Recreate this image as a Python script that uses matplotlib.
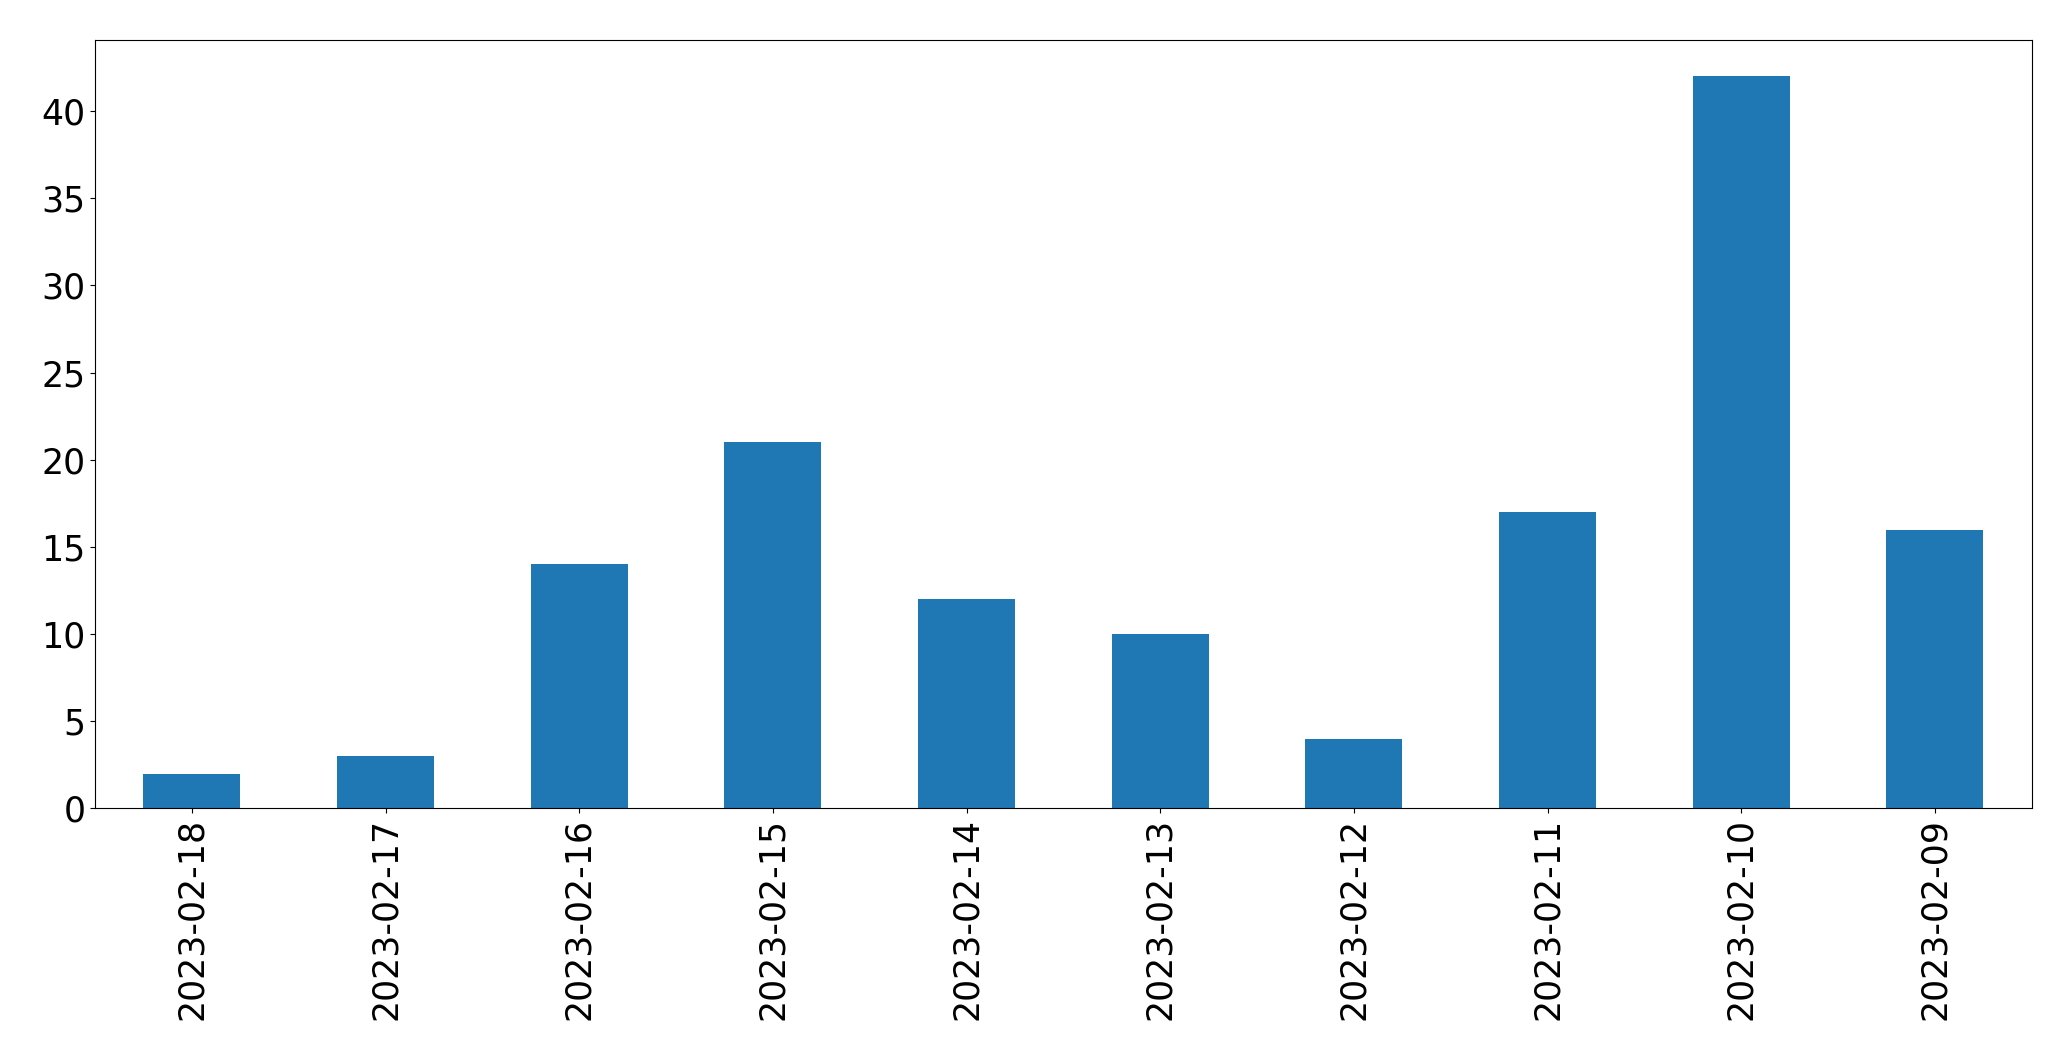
import matplotlib
matplotlib.use("Agg")
import matplotlib.pyplot as plt

dates = ["2023-02-18","2023-02-17","2023-02-16","2023-02-15","2023-02-14",
         "2023-02-13","2023-02-12","2023-02-11","2023-02-10","2023-02-09"]
counts = [2, 3, 14, 21, 12, 10, 4, 17, 42, 16]

fig = plt.figure(figsize=(20.71, 10.61), dpi=100)
ax = fig.add_axes([0.0459, 0.238, 0.9351, 0.7246])
x = range(len(dates))
ax.bar(x, counts, width=0.5, color="#1f77b4")
ax.set_xlim(-0.5, len(dates) - 0.5)
ax.set_xticks(list(x))
ax.set_xticklabels(dates, rotation=90, fontsize=25)
ax.tick_params(axis="y", labelsize=25)
ax.set_yticks(range(0, 41, 5))
fig.savefig("out.png", dpi=100)
